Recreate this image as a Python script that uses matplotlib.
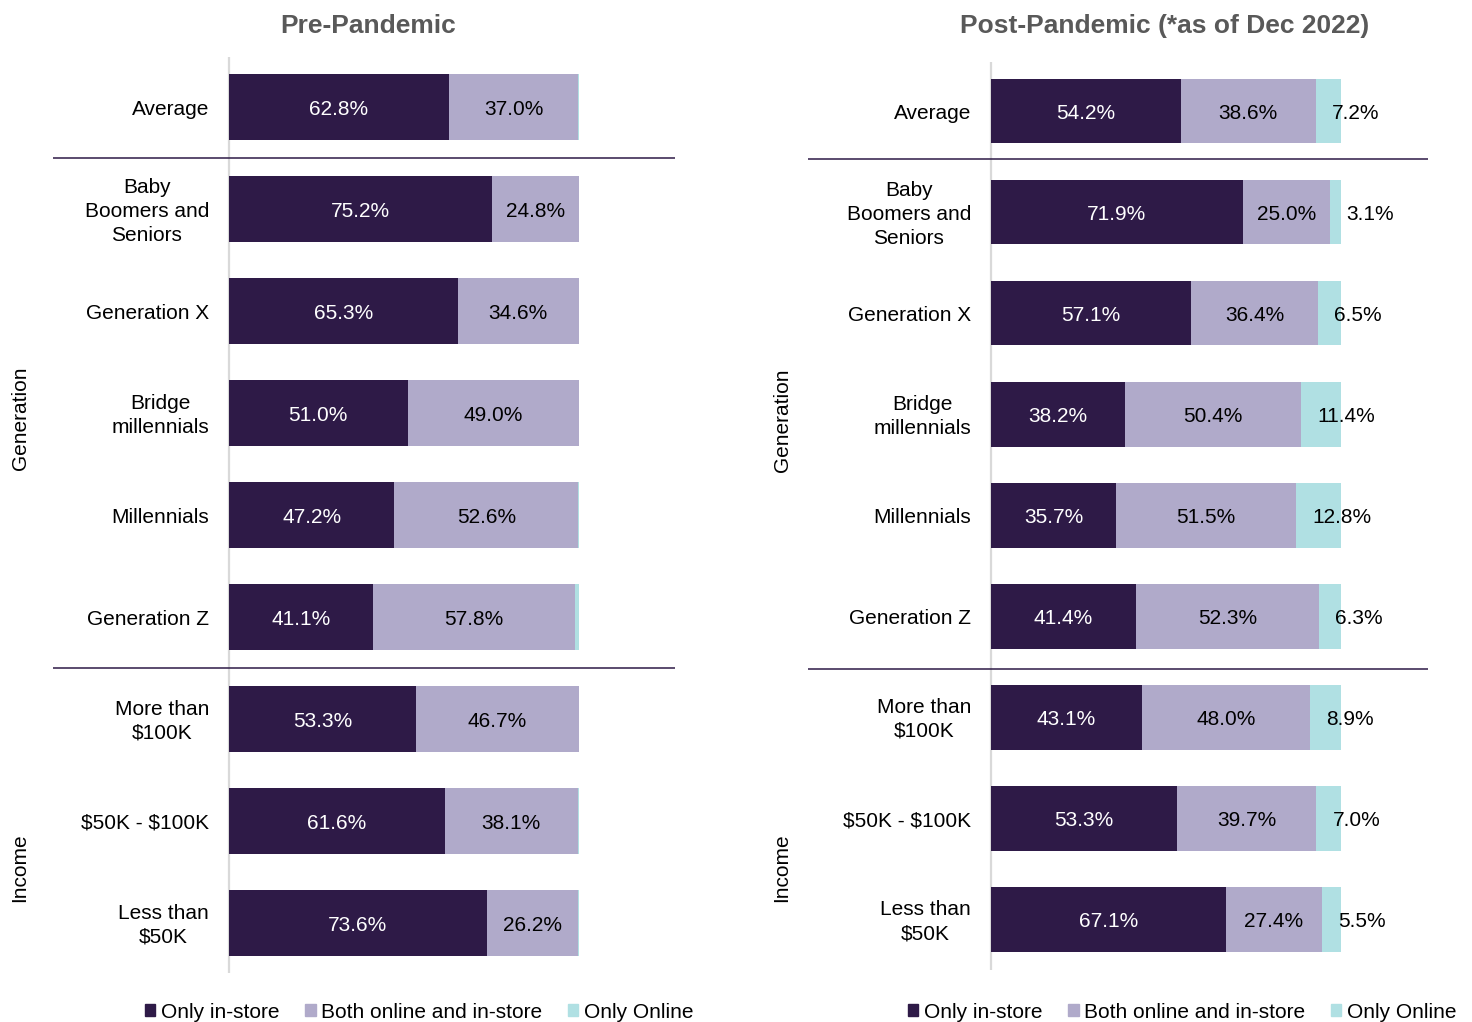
import numpy as np
import matplotlib
matplotlib.use("Agg")
import matplotlib.pyplot as plt
from matplotlib.patches import Patch

plt.rcParams['font.family'] = ['Liberation Sans', 'DejaVu Sans']

categories = ["Average", "Baby\nBoomers and\nSeniors", "Generation X", "Bridge\nmillennials",
              "Millennials", "Generation Z", "More than\n\\$100K", "\\$50K - \\$100K",
              "Less than\n\\$50K"]
series_names = ["Only in-store", "Both online and in-store", "Only Online"]

pre_instore = [62.8, 75.2, 65.3, 51.0, 47.2, 41.1, 53.3, 61.6, 73.6]
pre_both = [37.0, 24.8, 34.6, 49.0, 52.6, 57.8, 46.7, 38.1, 26.2]
pre_online = [0.2, 0.0, 0.1, 0.0, 0.2, 1.1, 0.0, 0.3, 0.2]

post_instore = [54.2, 71.9, 57.1, 38.2, 35.7, 41.4, 43.1, 53.3, 67.1]
post_both = [38.6, 25.0, 36.4, 50.4, 51.5, 52.3, 48.0, 39.7, 27.4]
post_online = [7.2, 3.1, 6.5, 11.4, 12.8, 6.3, 8.9, 7.0, 5.5]

colors = ["#2E1A47", "#B0AACA", "#B0E0E3"]
FS = 15
DY = 0.022  # small nudge so labels sit like the original


def draw_panel(ax, instore, both, online, xlim, ylim, label_online, group_y, seps):
    y = np.arange(len(categories))
    ax.barh(y, instore, height=0.64, color=colors[0])
    ax.barh(y, both, left=instore, height=0.64, color=colors[1])
    left3 = np.array(instore) + np.array(both)
    ax.barh(y, online, left=left3, height=0.64, color=colors[2])

    for i in range(len(categories)):
        ax.text(instore[i] / 2, i + DY, f"{instore[i]:.1f}%", ha='center', va='center',
                color='white', fontsize=FS)
        ax.text(instore[i] + both[i] / 2, i + DY, f"{both[i]:.1f}%", ha='center',
                va='center', color='black', fontsize=FS)
        if label_online:
            ax.text(left3[i] + 4.6, i + DY, f"{online[i]:.1f}%", ha='left', va='center',
                    color='black', fontsize=FS)
        ax.text(-5.7, i + DY, categories[i], ha='right', va='center',
                multialignment='center', fontsize=FS, color='black', linespacing=1.32)

    ax.axvline(0, color='#D9D9D9', lw=1.6, zorder=0)
    for yy in seps:
        ax.axhline(yy, color='#2E1A47', lw=1.1)

    ax.text(-59.7, group_y[0], "Generation", rotation=90, ha='center', va='center',
            fontsize=FS, clip_on=False)
    ax.text(-59.7, group_y[1], "Income", rotation=90, ha='center', va='center',
            fontsize=FS, clip_on=False)

    ax.set_xlim(*xlim)
    ax.set_ylim(*ylim)
    ax.axis('off')


fig = plt.figure(figsize=(14.72, 10.22), dpi=100)
ax1 = fig.add_axes([53 / 1472, 1 - 973 / 1022, 622 / 1472, 916 / 1022])
ax2 = fig.add_axes([808 / 1472, 1 - 970 / 1022, 620 / 1472, 908 / 1022])

draw_panel(ax1, pre_instore, pre_both, pre_online, (-50.29, 127.4), (8.49, -0.49),
           False, (3.05, 7.46), (0.5, 5.5))
draw_panel(ax2, post_instore, post_both, post_online, (-52.3, 124.9), (8.5, -0.485),
           True, (3.06, 7.49), (0.475, 5.52))

fig.text(368 / 1472, 1 - 26 / 1022, "Pre-Pandemic", ha='center', va='center',
         fontsize=19, fontweight='bold', color='#595959')
fig.text(1165 / 1472, 1 - 26 / 1022, "Post-Pandemic (*as of Dec 2022)", ha='center',
         va='center', fontsize=19, fontweight='bold', color='#595959')

handles = [Patch(color=c) for c in colors]
for cx in (419 / 1472, 1182 / 1472):
    fig.legend(handles, series_names, loc='center', bbox_to_anchor=(cx, 10 / 1022),
               ncol=3, frameon=False, fontsize=FS, handlelength=0.5, handleheight=0.5,
               handletextpad=0.25, columnspacing=1.25, borderpad=0)

fig.savefig("out.png", dpi=100)
